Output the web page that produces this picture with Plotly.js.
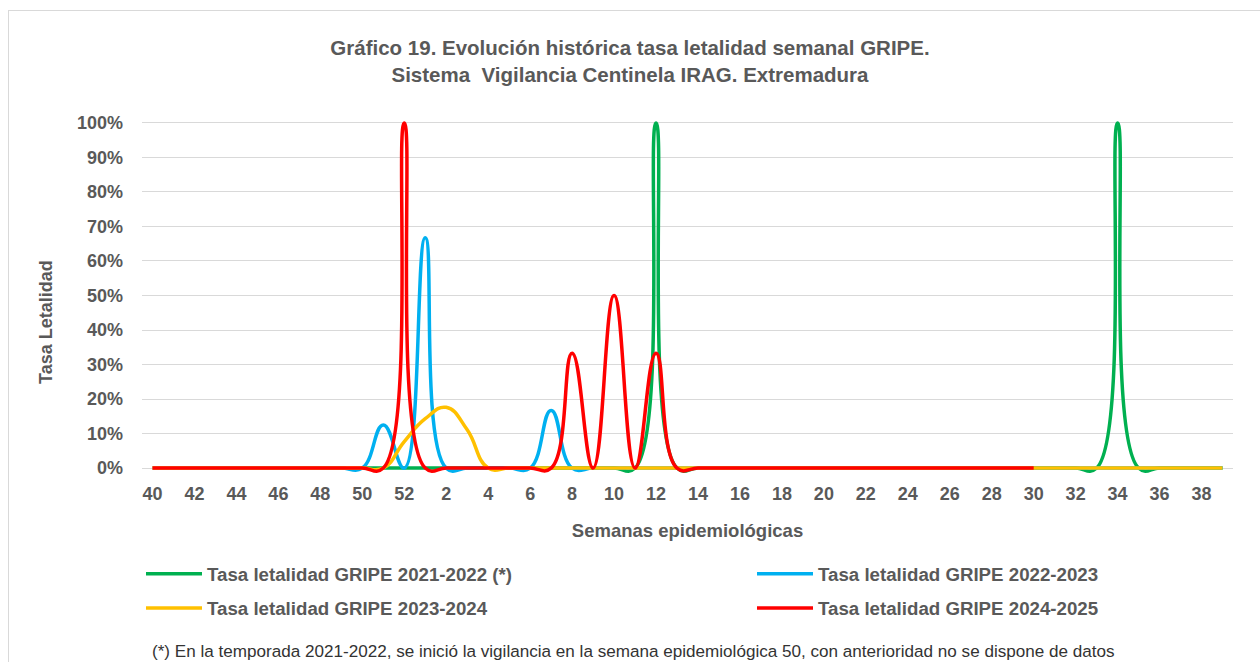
<!DOCTYPE html>
<html>
<head>
<meta charset="utf-8">
<script src="https://cdn.plot.ly/plotly-3.0.1.min.js"></script>
<style>
  html, body { margin: 0; padding: 0; background: #fff; }
  #chart { position: absolute; left: 0; top: 0; width: 1260px; height: 662px; }
  #frame { position: absolute; left: 8px; top: 10px; width: 1270px; height: 670px;
           border: 1px solid #d9d9d9; pointer-events: none; box-sizing: border-box; }
</style>
</head>
<body>
<div id="chart"></div>
<div id="frame"></div>
<script>
// Epidemiological weeks (season order 40..52, 1..39)
const weeks = ["40","41","42","43","44","45","46","47","48","49","50","51","52",
  "1","2","3","4","5","6","7","8","9","10","11","12","13","14","15","16","17","18","19",
  "20","21","22","23","24","25","26","27","28","29","30","31","32","33","34","35","36","37","38","39"];

const tickWeeks = ["40","42","44","46","48","50","52","2","4","6","8","10","12","14","16","18",
  "20","22","24","26","28","30","32","34","36","38"];

// Tasa letalidad GRIPE 2021-2022 (*) – surveillance started week 50
const s2122 = [null,null,null,null,null,null,null,null,null,null,
  0,0,0,
  0,0,0,0,0,0,0,0,0,0,0,1,0,
  0,0,0,0,0,0,0,0,0,0,0,0,0,0,0,0,0,0,0,0,1,0,0,0,0,0];

// Tasa letalidad GRIPE 2022-2023
const s2223 = [0,0,0,0,0,0,0,0,0,0,0,0.125,0,
  0.667,0,0,0,0,0,0.167,0,0,0,0,0,0,
  0,0,0,0,0,0,0,0,0,0,0,0,0,0,0,0,0,0,0,0,0,0,0,0,0,0];

// Tasa letalidad GRIPE 2023-2024
const s2324 = [0,0,0,0,0,0,0,0,0,0,0,0,0.077,
  0.143,0.176,0.111,0,0,0,0,0,0,0,0,0,0,
  0,0,0,0,0,0,0,0,0,0,0,0,0,0,0,0,0,0,0,0,0,0,0,0,0,0];

// Tasa letalidad GRIPE 2024-2025 – data up to week 30
const s2425 = [0,0,0,0,0,0,0,0,0,0,0,0,1,
  0,0,0,0,0,0,0,0.333,0,0.5,0,0.333,0,
  0,0,0,0,0,0,0,0,0,0,0,0,0,0,0,0,0,null,null,null,null,null,null,null,null,null];

const names = ["Tasa letalidad GRIPE 2021-2022 (*)", "Tasa letalidad GRIPE 2022-2023",
               "Tasa letalidad GRIPE 2023-2024", "Tasa letalidad GRIPE 2024-2025"];
const colors = ["#00B050", "#00B0F0", "#FFC000", "#FF0000"];
const seriesList = [s2122, s2223, s2324, s2425];
const legendOf = ["legend", "legend2", "legend", "legend2"];

const FONT = "Liberation Sans, Arial, sans-serif";
const GRAY = "#595959";

const traces = seriesList.map((s, i) => ({
  type: "scatter", mode: "lines",
  x: weeks, y: s, name: names[i],
  line: { color: colors[i], width: 3.5, shape: "spline", smoothing: 1.3 },
  connectgaps: false,
  legend: legendOf[i],
  legendgroup: "g" + i,
  hoverinfo: "x+y+name"
}));

const legendCommon = {
  orientation: "v",
  xref: "container", yref: "container",
  yanchor: "top", xanchor: "left",
  font: { family: FONT, size: 18.7, color: GRAY, weight: "bold" },
  itemwidth: 56,
  tracegroupgap: 7,
  bgcolor: "rgba(0,0,0,0)"
};

// plot area geometry (px) used to place the paper-referenced annotations
const PL = 142, PT = 116, PW = 1091, PH = 359;

const layout = {
  width: 1260, height: 662,
  paper_bgcolor: "#ffffff", plot_bgcolor: "#ffffff",
  margin: { l: PL, r: 1260 - PL - PW, t: PT, b: 662 - PT - PH, autoexpand: false },
  font: { family: FONT, color: GRAY },
  title: {
    text: "Gráfico 19. Evolución histórica tasa letalidad semanal GRIPE.<br>Sistema  Vigilancia Centinela IRAG. Extremadura",
    font: { family: FONT, size: 20.5, color: GRAY, weight: "bold" },
    x: 0.5, xanchor: "center", xref: "container",
    y: 1 - 55/662, yanchor: "top", yref: "container"
  },
  xaxis: {
    type: "category",
    categoryorder: "array", categoryarray: weeks,
    range: [-0.5, weeks.length - 0.5],
    tickmode: "array", tickvals: tickWeeks, ticktext: tickWeeks,
    tickfont: { family: FONT, size: 18, color: GRAY, weight: "bold" },
    showgrid: false, zeroline: false, showline: false,
    ticks: "", ticklabelstandoff: 6,
    title: { text: "Semanas epidemiológicas", standoff: 21,
             font: { family: FONT, size: 18.5, color: GRAY, weight: "bold" } }
  },
  yaxis: {
    range: [-0.02, 1.02],
    tick0: 0, dtick: 0.1, tickformat: ".0%",
    tickfont: { family: FONT, size: 18, color: GRAY, weight: "bold" },
    showgrid: true, gridcolor: "#d9d9d9", gridwidth: 1.3,
    zeroline: false, showline: false, ticks: "",
    ticklabelstandoff: 18
  },
  legend: Object.assign({}, legendCommon, { x: 141/1260, y: 1 - 555/662 }),
  legend2: Object.assign({}, legendCommon, { x: 752/1260, y: 1 - 555/662 }),
  annotations: [
    { text: "Tasa Letalidad", textangle: -90, xref: "paper", yref: "paper",
      x: (46 - PL)/PW, y: (PT + PH - 322)/PH, xanchor: "center", yanchor: "middle",
      showarrow: false, font: { family: FONT, size: 18, color: GRAY, weight: "bold" } },
    { text: "(*) En la temporada 2021-2022, se inició la vigilancia en la semana epidemiológica 50, con anterioridad no se dispone de datos",
      xref: "paper", yref: "paper", x: (150 - PL)/PW, y: (PT + PH - 651)/PH,
      xanchor: "left", yanchor: "middle", showarrow: false,
      font: { family: FONT, size: 17.1, color: "#333333" } }
  ]
};

Plotly.newPlot("chart", traces, layout, { displayModeBar: false, responsive: false });
</script>
</body>
</html>
